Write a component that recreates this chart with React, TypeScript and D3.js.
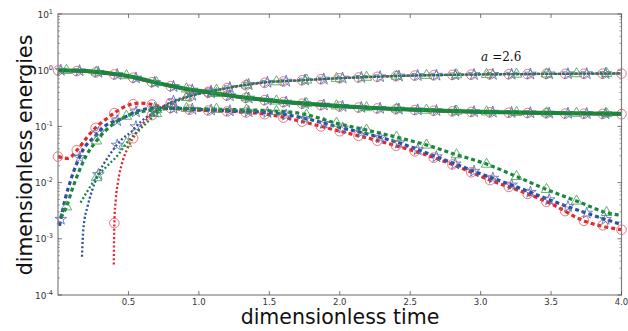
import React from 'react'
import * as d3 from 'd3'

const W = 628, H = 331
const M = { left: 58, right: 621.5, top: 14, bottom: 295 }

const xTicks = [0.5, 1.0, 1.5, 2.0, 2.5, 3.0, 3.5, 4.0]
const yExps = [-4, -3, -2, -1, 0, 1]

// solid: total energy
const tSolid = [0, 0.2, 0.4, 0.5, 0.6, 0.7, 0.8, 0.9, 1.0, 1.2, 1.4, 1.6, 1.8, 2.0, 2.2, 2.4, 2.6, 2.8, 3.0, 3.2, 3.4, 3.6, 3.8, 4.0]
const redSolid = [0.99, 0.95, 0.84, 0.77, 0.67, 0.585, 0.52, 0.46, 0.42, 0.355, 0.305, 0.27, 0.245, 0.226, 0.212, 0.202, 0.192, 0.185, 0.179, 0.175, 0.172, 0.169, 0.167, 0.165]
const blueSolid = [1.0, 0.97, 0.85, 0.78, 0.68, 0.595, 0.525, 0.465, 0.425, 0.358, 0.308, 0.273, 0.248, 0.229, 0.214, 0.204, 0.194, 0.187, 0.181, 0.177, 0.174, 0.171, 0.169, 0.167]
const greenSolid = [1.0, 0.97, 0.86, 0.79, 0.69, 0.6, 0.53, 0.47, 0.43, 0.36, 0.31, 0.275, 0.25, 0.23, 0.215, 0.205, 0.195, 0.188, 0.182, 0.178, 0.175, 0.172, 0.17, 0.168]

// dashed
const tRedDash = [0, 0.07, 0.14, 0.21, 0.27, 0.35, 0.41, 0.5, 0.58, 0.65, 0.75, 0.9, 1.1, 1.3, 1.5, 1.72, 2.0, 2.2, 2.43, 2.6, 2.8, 3.07, 3.3, 3.5, 3.73, 4.0]
const redDash = [0.029, 0.027, 0.039, 0.066, 0.096, 0.14, 0.18, 0.24, 0.26, 0.25, 0.22, 0.2, 0.19, 0.18, 0.162, 0.124, 0.082, 0.062, 0.043, 0.032, 0.021, 0.011, 0.0068, 0.0042, 0.0021, 0.00145]
const tBlueDash = [0.01, 0.05, 0.09, 0.13, 0.18, 0.26, 0.33, 0.46, 0.57, 0.68, 0.8, 1.0, 1.2, 1.5, 1.72, 2.0, 2.2, 2.43, 2.7, 2.98, 3.25, 3.52, 3.8, 4.0]
const blueDash = [0.0017, 0.005, 0.011, 0.021, 0.039, 0.066, 0.1, 0.14, 0.19, 0.21, 0.21, 0.2, 0.19, 0.176, 0.145, 0.096, 0.073, 0.05, 0.028, 0.015, 0.0085, 0.0046, 0.0026, 0.0018]
const tGreenDash = [0.02, 0.06, 0.1, 0.15, 0.2, 0.27, 0.35, 0.48, 0.58, 0.7, 0.85, 1.0, 1.2, 1.5, 1.72, 2.0, 2.2, 2.43, 2.6, 2.8, 3.05, 3.25, 3.47, 3.7, 3.9, 4.0]
const greenDash = [0.0024, 0.0037, 0.0075, 0.016, 0.03, 0.054, 0.09, 0.15, 0.18, 0.2, 0.21, 0.205, 0.2, 0.19, 0.17, 0.11, 0.085, 0.062, 0.048, 0.033, 0.021, 0.013, 0.0075, 0.0045, 0.0029, 0.0026]

// dotted
const tRedDot = [0.396, 0.4, 0.41, 0.425, 0.45, 0.49, 0.54, 0.6, 0.7, 0.8, 0.9, 1.0, 1.08, 1.2, 1.44, 1.72, 2.0, 2.5, 3.0, 3.5, 4.0]
const redDot = [0.00035, 0.0019, 0.005, 0.01, 0.02, 0.039, 0.066, 0.11, 0.19, 0.26, 0.32, 0.38, 0.42, 0.48, 0.59, 0.66, 0.72, 0.8, 0.84, 0.86, 0.87]
const tBlueDot = [0.17, 0.18, 0.21, 0.24, 0.28, 0.37, 0.45, 0.52, 0.57, 0.7, 0.8, 0.9, 1.0, 1.08, 1.2, 1.44, 1.72, 2.0, 2.5, 3.0, 3.5, 4.0]
const blueDot = [0.00048, 0.0015, 0.0038, 0.007, 0.013, 0.032, 0.058, 0.08, 0.11, 0.19, 0.27, 0.33, 0.38, 0.42, 0.48, 0.6, 0.66, 0.72, 0.8, 0.84, 0.86, 0.875]
const tGreenDot = [0.16, 0.2, 0.28, 0.36, 0.43, 0.48, 0.55, 0.62, 0.7, 0.8, 0.9, 1.0, 1.08, 1.2, 1.44, 1.72, 2.0, 2.5, 3.0, 3.5, 4.0]
const greenDot = [0.0044, 0.0065, 0.013, 0.021, 0.032, 0.048, 0.075, 0.11, 0.17, 0.25, 0.32, 0.38, 0.42, 0.48, 0.6, 0.66, 0.72, 0.8, 0.84, 0.86, 0.88]

const RED = '#e3272b', BLUE = '#2c4ea5', GREEN = '#18873d'

type Style = 'solid' | 'dash' | 'dot'
type Mk = 'circle' | 'star' | 'tri'
type Series = { t: number[]; v: number[]; color: string; style: Style; mk: Mk }

const series: Series[] = [
  { t: tSolid, v: redSolid, color: RED, style: 'solid', mk: 'circle' },
  { t: tRedDash, v: redDash, color: RED, style: 'dash', mk: 'circle' },
  { t: tRedDot, v: redDot, color: RED, style: 'dot', mk: 'circle' },
  { t: tSolid, v: blueSolid, color: BLUE, style: 'solid', mk: 'star' },
  { t: tBlueDash, v: blueDash, color: BLUE, style: 'dash', mk: 'star' },
  { t: tBlueDot, v: blueDot, color: BLUE, style: 'dot', mk: 'star' },
  { t: tSolid, v: greenSolid, color: GREEN, style: 'solid', mk: 'tri' },
  { t: tGreenDash, v: greenDash, color: GREEN, style: 'dash', mk: 'tri' },
  { t: tGreenDot, v: greenDot, color: GREEN, style: 'dot', mk: 'tri' },
]

// marker spacing (markevery) per marker type
const markStep: Record<Mk, [number, number]> = { circle: [0, 4 / 30], star: [0.02, 4 / 30], tri: [0.06, 0.213] }
const markColor: Record<Mk, string> = { circle: '#e0585a', star: '#4d66b3', tri: '#3c9e4a' }

const x = d3.scaleLinear().domain([0, 4]).range([M.left, M.right])
const y = d3.scaleLog().domain([1e-4, 10]).range([M.bottom, M.top])

function valueAt(s: Series, t: number) {
  for (let i = 1; i < s.t.length; i++) {
    if (t <= s.t[i]) {
      const f = (t - s.t[i - 1]) / (s.t[i] - s.t[i - 1])
      return Math.pow(10, Math.log10(s.v[i - 1]) * (1 - f) + Math.log10(s.v[i]) * f)
    }
  }
  return s.v[s.v.length - 1]
}

const starPath = d3.symbol().type(d3.symbolStar).size(42)()
const triPath = d3.symbol().type(d3.symbolTriangle).size(48)()

export default function App() {
  const line = d3.line<[number, number]>().x(d => x(d[0])).y(d => y(d[1])).curve(d3.curveMonotoneX)
  const minor: number[] = []
  for (let e = -4; e < 1; e++) for (let k = 2; k < 10; k++) minor.push(k * Math.pow(10, e))

  return (
    <svg width={W} height={H} style={{ position: 'absolute', left: 0, top: 0, background: '#fff' }} fontFamily="DejaVu Sans">
      <g>
        {series.map((s, i) => {
          const pts = s.t.map((t, j) => [t, s.v[j]] as [number, number])
          const w = s.style === 'solid' ? (s.color === GREEN ? 4 : 3) : s.style === 'dash' ? 3.2 : 2.3
          const da = s.style === 'solid' ? undefined : s.style === 'dash' ? '4 3' : '2 2.2'
          const [off, step] = markStep[s.mk]
          const t0 = s.t[0], t1 = s.t[s.t.length - 1]
          const marks: number[] = []
          for (let k = 0; off + k * step <= t1 + 1e-9; k++) {
            const tt = off + k * step
            if (tt >= t0 - 1e-9) marks.push(tt)
          }
          return (
            <g key={i}>
              <path d={line(pts) || ''} fill="none" stroke={s.color} strokeWidth={w} strokeDasharray={da} />
              {marks.map((tt, k) => {
                const px = x(tt), py = y(valueAt(s, tt))
                const c = markColor[s.mk]
                if (s.mk === 'circle') return <circle key={k} cx={px} cy={py} r={4.8} fill="none" stroke={c} strokeWidth={0.8} />
                return <path key={k} d={(s.mk === 'star' ? starPath : triPath) || ''} transform={`translate(${px},${py})`} fill="none" stroke={c} strokeWidth={0.8} />
              })}
            </g>
          )
        })}
      </g>

      {/* frame */}
      <rect x={M.left} y={M.top} width={M.right - M.left} height={M.bottom - M.top} fill="none" stroke="#808080" strokeWidth={1.2} />

      {/* x ticks */}
      {xTicks.map(t => (
        <g key={t}>
          <line x1={x(t)} x2={x(t)} y1={M.bottom} y2={M.bottom - 4} stroke="#555" strokeWidth={0.8} />
          <line x1={x(t)} x2={x(t)} y1={M.top} y2={M.top + 4} stroke="#555" strokeWidth={0.8} />
          <text x={x(t)} y={M.bottom + 9.5} fontSize={8.5} fill="#333" textAnchor="middle">{t.toFixed(1)}</text>
        </g>
      ))}

      {/* y ticks */}
      {yExps.map(e => (
        <g key={e}>
          <line x1={M.left} x2={M.left + 4} y1={y(Math.pow(10, e))} y2={y(Math.pow(10, e))} stroke="#555" strokeWidth={0.8} />
          <line x1={M.right} x2={M.right - 4} y1={y(Math.pow(10, e))} y2={y(Math.pow(10, e))} stroke="#555" strokeWidth={0.8} />
          <text x={M.left - 5} y={y(Math.pow(10, e)) + 3.5} fontSize={9} fill="#333" textAnchor="end">
            10<tspan fontSize={6.5} dy={-4}>{e}</tspan>
          </text>
        </g>
      ))}
      {minor.map((v, i) => (
        <g key={'m' + i}>
          <line x1={M.left} x2={M.left + 2} y1={y(v)} y2={y(v)} stroke="#666" strokeWidth={0.6} />
          <line x1={M.right} x2={M.right - 2} y1={y(v)} y2={y(v)} stroke="#666" strokeWidth={0.6} />
        </g>
      ))}

      <text x={481} y={60.5} fontFamily="DejaVu Serif" fontSize={12} fill="#111">
        <tspan fontStyle="italic">a</tspan><tspan dx={4}>=2.6</tspan>
      </text>

      <text x={340} y={324} fontSize={20.5} textAnchor="middle" fill="#111">dimensionless time</text>
      <text transform={`translate(32,155) rotate(-90)`} fontSize={20.5} textAnchor="middle" fill="#111">dimensionless energies</text>
    </svg>
  )
}
